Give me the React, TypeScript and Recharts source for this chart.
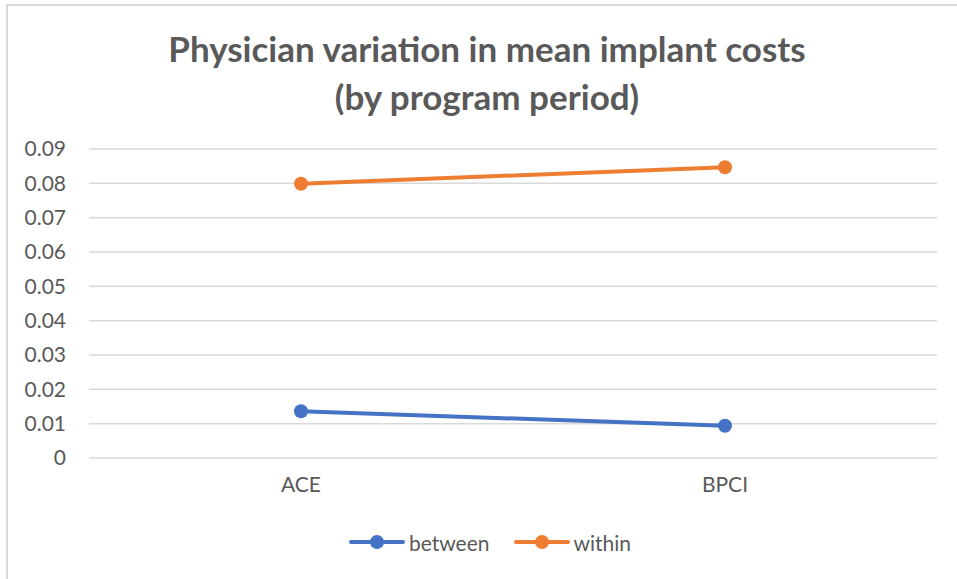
import React from 'react';
import { LineChart, Line, XAxis, YAxis, CartesianGrid } from 'recharts';

const periods = ['ACE', 'BPCI'];
const betweenValues = [0.0136, 0.0094];
const withinValues = [0.0799, 0.0847];
const yTicks = [0, 0.01, 0.02, 0.03, 0.04, 0.05, 0.06, 0.07, 0.08, 0.09];

const series = [
  { key: 'between', color: '#4472C4' },
  { key: 'within', color: '#ED7D31' },
];

const data = periods.map((name, i) => ({
  name,
  between: betweenValues[i],
  within: withinValues[i],
}));

const FONT = 'Lato, "Open Sans", sans-serif';
const TEXT = '#595959';

// legend drawn outside the chart so it doesn't eat into the plot height
const ChartLegend = () => (
  <div style={{
    position: 'absolute', left: 0, top: 529, width: 980, height: 26,
    display: 'flex', justifyContent: 'center', alignItems: 'center', gap: 24,
    fontFamily: FONT, fontSize: 21, color: TEXT,
  }}>
    {series.map(s => (
      <div key={s.key} style={{ display: 'flex', alignItems: 'center' }}>
        <svg width={56} height={16} style={{ marginRight: 4 }}>
          <line x1={2} y1={8} x2={54} y2={8} stroke={s.color} strokeWidth={4} strokeLinecap="round" />
          <circle cx={28} cy={8} r={7} fill={s.color} />
        </svg>
        <span>{s.key}</span>
      </div>
    ))}
  </div>
);

export default function App() {
  return (
    <div style={{ position: 'absolute', left: 0, top: 0, width: 957, height: 579, background: '#fff', overflow: 'hidden' }}>
      <div style={{
        position: 'absolute', left: 6, top: 4, width: 1000, height: 640,
        borderTop: '2px solid #d9d9d9', borderLeft: '2px solid #d9d9d9',
      }} />
      <div style={{
        position: 'absolute', left: 0, top: 24, width: 974, textAlign: 'center',
        fontFamily: FONT, fontWeight: 700, fontSize: 35, lineHeight: '48px', color: TEXT,
      }}>
        Physician variation in mean implant costs<br />(by program period)
      </div>
      <div style={{ position: 'absolute', left: 0, top: 0 }}>
        <LineChart width={957} height={579} data={data}
          margin={{ top: 149, right: 20, bottom: 81, left: 0 }}>
          <CartesianGrid vertical={false} stroke="#d9d9d9" strokeWidth={1.5} />
          <XAxis dataKey="name" axisLine={false} tickLine={false} height={40}
            padding={{ left: 212, right: 212 }} tickMargin={13}
            tick={{ fontFamily: FONT, fontSize: 21, fill: TEXT }} />
          <YAxis domain={[0, 0.09]} ticks={yTicks} axisLine={false} tickLine={false} width={89}
            tickMargin={17} interval={0}
            tickFormatter={(v: number) => (v === 0 ? '0' : v.toFixed(2))}
            tick={{ fontFamily: FONT, fontSize: 21, fill: TEXT }} />
          {series.map(s => (
            <Line key={s.key} dataKey={s.key} stroke={s.color} strokeWidth={4}
              dot={{ r: 7, fill: s.color, stroke: s.color, strokeWidth: 0 }}
              activeDot={false} isAnimationActive={false} />
          ))}
        </LineChart>
      </div>
      <ChartLegend />
    </div>
  );
}
